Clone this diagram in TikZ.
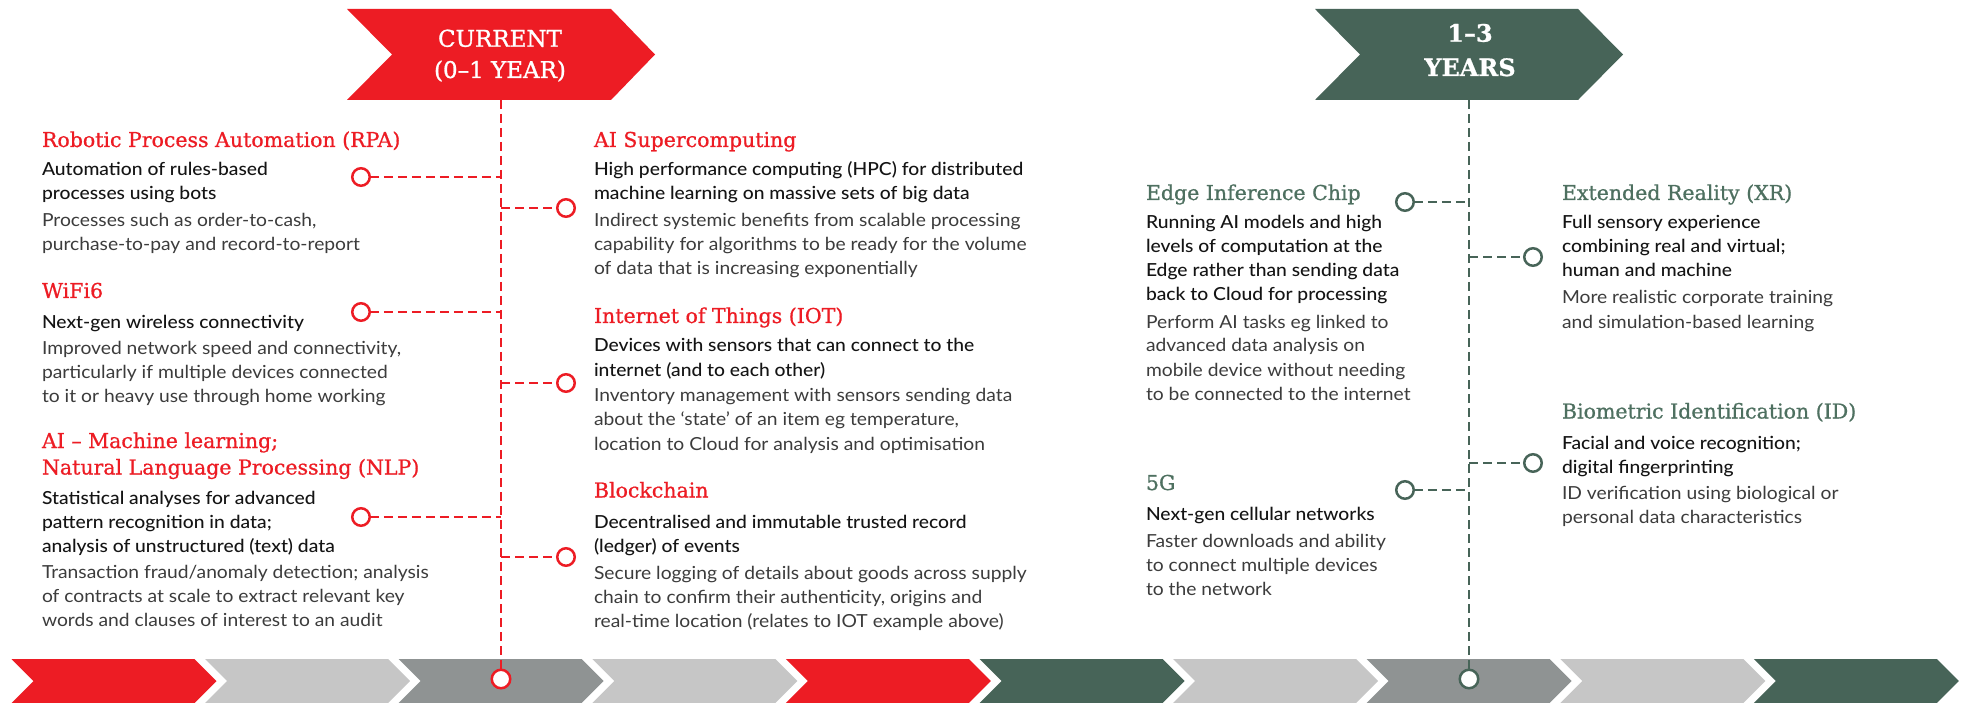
\documentclass[tikz,border=0pt]{standalone}
\usepackage{fontspec}
\setmainfont{Lato}[FakeStretch=1.07]
\newfontfamily\hfont{DejaVu Serif}[FakeBold=0.8]
\newfontfamily\hdrfont{DejaVu Serif}[FakeBold=1.2]
\newfontfamily\mfont{Lato Medium}[FakeStretch=1.07]
\definecolor{kred}{RGB}{237,28,36}
\definecolor{kgreen}{RGB}{71,100,88}
\definecolor{kgreentxt}{RGB}{78,112,96}
\definecolor{lgray}{RGB}{198,198,198}
\definecolor{dgray}{RGB}{143,147,147}
\definecolor{subc}{RGB}{20,20,20}
\definecolor{descc}{RGB}{60,60,60}
\newcommand\txtlines[6]{%
  \foreach \t [count=\i from 0] in {#6}{%
    \node[#5, anchor=base west] (#1-\i) at (#2, {#3+\i*#4}) {\t};}}
\tikzset{
  head/.style={font=\hfont\fontsize{20.5}{20.5}\selectfont, text=kred},
  ghead/.style={font=\hfont\fontsize{20.5}{20.5}\selectfont, text=kgreentxt},
  sub/.style={font=\mfont\fontsize{18}{18}\selectfont, text=subc},
  desc/.style={font=\fontsize{18}{18}\selectfont, text=descc},
  hdr/.style={font=\hdrfont\fontsize{23}{23}\selectfont, text=white, anchor=base},
  hdrb/.style={font=\hfont\bfseries\fontsize{24}{24}\selectfont, text=white, anchor=base},
  rdash/.style={draw=kred, line width=2.5pt, dash pattern=on 9pt off 5pt},
  gdash/.style={draw=kgreen, line width=2.3pt, dash pattern=on 9pt off 5pt},
  rc/.style={circle, draw=kred, line width=2.5pt, fill=white, minimum size=17.5pt, inner sep=0pt},
  gc/.style={circle, draw=kgreen, line width=2.5pt, fill=white, minimum size=17.5pt, inner sep=0pt},
}
\begin{document}
\begin{tikzpicture}[x=1pt, y=-1pt, every node/.append style={inner sep=0pt, outer sep=0pt}]
\useasboundingbox (0,0) rectangle (1968,703);
\fill[white] (0,0) rectangle (1968,703);
% bottom chevron bar
\foreach \c [count=\i from 0] in {kred,lgray,dgray,lgray,kred,kgreen,lgray,dgray,lgray,kgreen}{
  \pgfmathsetmacro\xa{11.5+193.6*\i}
  \fill[\c] (\xa,659) -- ++(183,0) -- ++(22,22) -- ++(-22,22) -- ++(-183,0) -- ++(22,-22) -- cycle;
}
% header chevrons
\fill[kred] (347,9) -- (611,9) -- (655,54.5) -- (611,100) -- (347,100) -- (392,54.5) -- cycle;
\fill[kgreen] (1315,9) -- (1578,9) -- (1623,54.5) -- (1578,100) -- (1315,100) -- (1360,54.5) -- cycle;
\node[hdr] (cur1) at (500,46.7) {CURRENT};
\node[hdr] (cur2) at (500,78) {(0–1 YEAR)};
\node[hdrb] (yr1) at (1470,41.7) {1–3};
\node[hdrb] (yr2) at (1470,76) {YEARS};
% timelines
\coordinate (rtop) at (501,100);
\coordinate (gtop) at (1469,100);
\node[rc, minimum size=18.5pt] (rbot) at (501,679) {};
\node[gc, minimum size=18.5pt] (gbot) at (1469,679) {};
\draw[rdash] (rtop) -- (rbot.north);
\draw[gdash] (gtop) -- (gbot.north);
% red circles
\node[rc] (rpa) at (361,177) {};
\node[rc] (wifi) at (361,312) {};
\node[rc] (nlp) at (361,517) {};
\node[rc] (aisc) at (566,208) {};
\node[rc] (iot) at (566,383) {};
\node[rc] (blk) at (566,557) {};
\foreach \n in {rpa,wifi,nlp}{\draw[rdash] (\n.east) -- (\n.east -| rtop);}
\foreach \n in {aisc,iot,blk}{\draw[rdash] (\n.west -| rtop) -- (\n.west);}
% green circles
\node[gc] (edge) at (1405,202) {};
\node[gc] (fiveg) at (1405,490) {};
\node[gc] (xr) at (1533,257) {};
\node[gc] (bio) at (1533,463) {};
\foreach \n in {edge,fiveg}{\draw[gdash] (\n.east) -- (\n.east -| gtop);}
\foreach \n in {xr,bio}{\draw[gdash] (\n.west -| gtop) -- (\n.west);}
% left column
\txtlines{rpah}{42}{147}{0}{head}{Robotic Process Automation (RPA)}
\txtlines{rpas}{42}{176}{24}{sub}{Automation of rules-based, processes using bots}
\txtlines{rpad}{42}{227}{24}{desc}{{Processes such as order-to-cash,}, purchase-to-pay and record-to-report}
\txtlines{wifih}{42}{298}{0}{head}{WiFi6}
\txtlines{wifis}{42}{328}{24}{sub}{Next-gen wireless connectivity}
\txtlines{wifid}{42}{354}{24}{desc}{{Improved network speed and connectivity,}, particularly if multiple devices connected, to it or heavy use through home working}
\txtlines{nlph}{42}{448}{26.5}{head}{AI – Machine learning;, Natural Language Processing (NLP)}
\txtlines{nlps}{42}{504}{24}{sub}{Statistical analyses for advanced, pattern recognition in data;, {analysis of unstructured (text) data}}
\txtlines{nlpd}{42}{578}{24}{desc}{Transaction fraud/anomaly detection; analysis, of contracts at scale to extract relevant key, words and clauses of interest to an audit}
% middle column
\txtlines{aisch}{594}{147}{0}{head}{AI Supercomputing}
\txtlines{aiscs}{594}{176}{24}{sub}{{High performance computing (HPC) for distributed}, machine learning on massive sets of big data}
\txtlines{aiscd}{594}{227}{24}{desc}{Indirect systemic benefits from scalable processing, capability for algorithms to be ready for the volume, of data that is increasing exponentially}
\txtlines{ioth}{594}{323}{0}{head}{Internet of Things (IOT)}
\txtlines{iots}{594}{352}{24}{sub}{Devices with sensors that can connect to the, {internet (and to each other)}}
\txtlines{iotd}{594}{401}{24.8}{desc}{Inventory management with sensors sending data, {about the ‘state’ of an item eg temperature,}, location to Cloud for analysis and optimisation}
\txtlines{blkh}{594}{497.5}{0}{head}{Blockchain}
\txtlines{blks}{594}{528}{24}{sub}{Decentralised and immutable trusted record, {(ledger) of events}}
\txtlines{blkd}{594}{579}{24}{desc}{Secure logging of details about goods across supply, {chain to confirm their authenticity, origins and}, {real-time location (relates to IOT example above)}}
% green left column
\txtlines{edgeh}{1146}{200}{0}{ghead}{Edge Inference Chip}
\txtlines{edges}{1146}{229}{24}{sub}{Running AI models and high, levels of computation at the, Edge rather than sending data, back to Cloud for processing}
\txtlines{edged}{1146}{328}{24}{desc}{Perform AI tasks eg linked to, advanced data analysis on, mobile device without needing, to be connected to the internet}
\txtlines{fivegh}{1146}{490}{0}{ghead}{5G}
\txtlines{fivegs}{1146}{520}{24}{sub}{Next-gen cellular networks}
\txtlines{fivegd}{1146}{547}{24}{desc}{Faster downloads and ability, to connect multiple devices, to the network}
% green right column
\txtlines{xrh}{1562}{200}{0}{ghead}{Extended Reality (XR)}
\txtlines{xrs}{1562}{229}{24}{sub}{Full sensory experience, combining real and virtual;, human and machine}
\txtlines{xrd}{1562}{304}{24}{desc}{More realistic corporate training, and simulation-based learning}
\txtlines{bioh}{1562}{418.5}{0}{ghead}{Biometric Identification (ID)}
\txtlines{bios}{1562}{449}{24}{sub}{Facial and voice recognition;, digital fingerprinting}
\txtlines{biod}{1562}{499}{24}{desc}{ID verification using biological or, personal data characteristics}
\end{tikzpicture}
\end{document}
